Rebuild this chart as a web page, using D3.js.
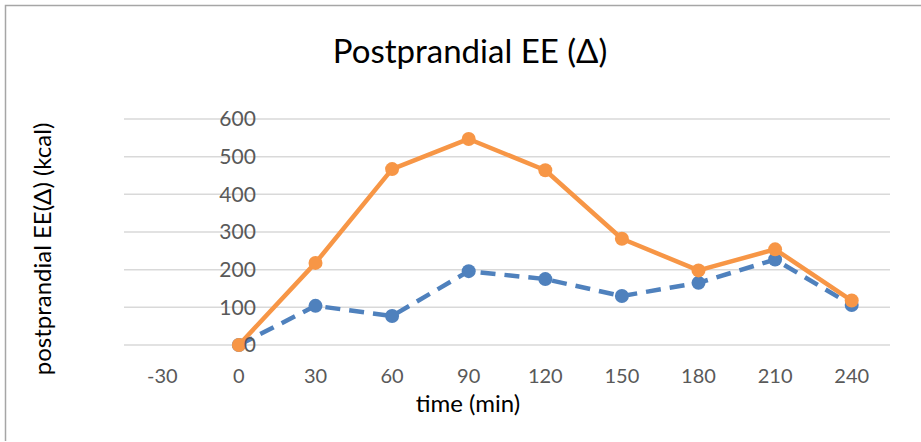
<!DOCTYPE html>
<html>
<head>
<meta charset="utf-8">
<script src="https://cdn.jsdelivr.net/npm/d3@7"></script>
<style>
  html, body { margin: 0; padding: 0; background: #fff; }
  svg { display: block; font-family: Lato, "Open Sans", sans-serif; }
</style>
</head>
<body>
<svg id="chart" width="921" height="442"></svg>
<script>
// Time points (minutes) on the category axis
const categories = ["-30", "0", "30", "60", "90", "120", "150", "180", "210", "240"];
// Change in postprandial energy expenditure (kcal), one value per time point from 0 on
const seriesBlue = [0, 104, 77, 196, 175, 130, 165, 227, 106];
const seriesOrange = [0, 218, 467, 547, 464, 282, 198, 254, 118];
const seriesTimes = ["0", "30", "60", "90", "120", "150", "180", "210", "240"];
const yTicks = [0, 100, 200, 300, 400, 500, 600];

const titleText = "Postprandial EE (\u0394)";
const xTitle = "time (min)";
const yTitle = "postprandial EE(\u0394) (kcal)";

const svg = d3.select("#chart");

// Chart frame (top and left edges)
svg.append("path")
  .attr("d", "M5.5,441 V5.5 H921")
  .attr("fill", "none")
  .attr("stroke", "#a6a6a6")
  .attr("stroke-width", 1.5);

const x = d3.scaleBand().domain(categories).range([124, 890]);
const y = d3.scaleLinear().domain([0, 600]).range([345, 119]);
const cx = d => x(d) + x.bandwidth() / 2;

// Horizontal gridlines
svg.append("g")
  .selectAll("line")
  .data(yTicks)
  .join("line")
  .attr("x1", x.range()[0])
  .attr("x2", x.range()[1])
  .attr("y1", d => y(d))
  .attr("y2", d => y(d))
  .attr("stroke", "#d9d9d9")
  .attr("stroke-width", 1.5);

// Title
svg.append("text")
  .attr("x", 470)
  .attr("y", 63)
  .attr("text-anchor", "middle")
  .attr("font-size", 33)
  .attr("fill", "#000")
  .text(titleText);

// Category axis labels
const xAxis = d3.axisBottom(x).tickSize(0).tickPadding(0);
const gx = svg.append("g").attr("transform", "translate(0,369)").call(xAxis);
gx.select(".domain").remove();
gx.selectAll("text")
  .attr("font-size", 20)
  .attr("font-family", "Lato, 'Open Sans', sans-serif")
  .attr("fill", "#595959")
  .attr("dy", "0.71em");

// Axis titles
svg.append("text")
  .attr("x", 468)
  .attr("y", 412)
  .attr("text-anchor", "middle")
  .attr("font-size", 24)
  .attr("fill", "#000")
  .text(xTitle);

svg.append("text")
  .attr("transform", "translate(51,249) rotate(-90)")
  .attr("text-anchor", "middle")
  .attr("font-size", 24)
  .attr("fill", "#000")
  .text(yTitle);

// Series lines and markers
const line = d3.line().x((d, i) => cx(seriesTimes[i])).y(d => y(d));

function drawSeries(values, color, dash) {
  const g = svg.append("g");
  g.append("path")
    .datum(values)
    .attr("d", line)
    .attr("fill", "none")
    .attr("stroke", color)
    .attr("stroke-width", 4.5)
    .attr("stroke-linejoin", "round")
    .attr("stroke-dasharray", dash);
  g.selectAll("circle")
    .data(values)
    .join("circle")
    .attr("cx", (d, i) => cx(seriesTimes[i]))
    .attr("cy", d => y(d))
    .attr("r", 7)
    .attr("fill", color);
}

drawSeries(seriesBlue, "#4f81bd", "15,9");
drawSeries(seriesOrange, "#f79646", null);

// Value axis labels, placed next to the "0" category
const yAxis = d3.axisLeft(y).tickValues(yTicks).tickSize(0).tickPadding(0);
const gy = svg.append("g")
  .attr("transform", `translate(${cx("0") + 17},0)`)
  .call(yAxis);
gy.select(".domain").remove();
gy.selectAll("text")
  .attr("font-size", 21)
  .attr("font-family", "Lato, 'Open Sans', sans-serif")
  .attr("fill", "#595959");
</script>
</body>
</html>
